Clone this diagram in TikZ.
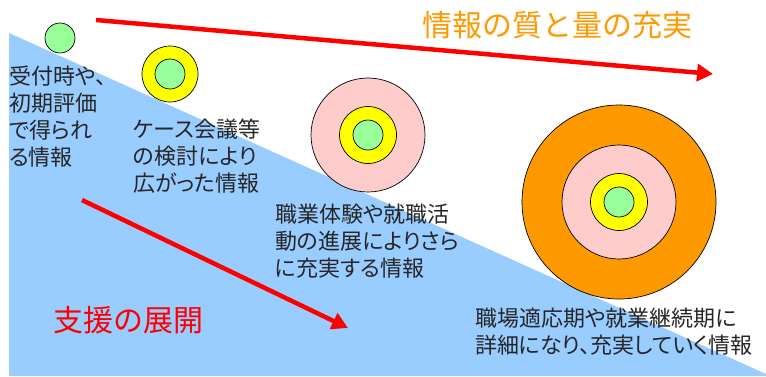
\documentclass[tikz,border=0pt]{standalone}
\usepackage{fontspec}
\setmainfont{Noto Sans CJK JP}
\newfontfamily\propjp[RawFeature=+palt]{Noto Sans CJK JP}
\usetikzlibrary{arrows.meta}
\definecolor{skyb}{HTML}{99CCFF}
\definecolor{grn}{HTML}{99FF99}
\definecolor{yel}{HTML}{FFFF00}
\definecolor{pnk}{HTML}{FFCCCC}
\definecolor{org}{HTML}{FF9900}
\definecolor{rd}{HTML}{FF0000}
\tikzset{
  ring/.style={circle, draw=black, line width=0.7pt, inner sep=0pt, minimum size=#1},
  bigarrow/.style={draw=rd, line width=4.5pt, -{Triangle[length=16pt,width=17pt]}},
  info/.style={align=left, inner sep=0pt, anchor=base west, font=\propjp\fontsize{22}{27}\selectfont, text=black!85},
  headline/.style={inner sep=0pt, font=\fontsize{30}{34}\selectfont}
}
\begin{document}
\begin{tikzpicture}[x=1pt,y=-1pt]
\useasboundingbox (0,0) rectangle (766,376);
\fill[white] (0,0) rectangle (766,376);
\fill[skyb] (9,33) -- (766,374) -- (766,376) -- (9,376) -- cycle;
% stage 1
\node[ring=30pt, fill=grn] (c1) at (60,38) {};
% stage 2
\node[ring=56pt, fill=yel] (c2y) at (170,74) {};
\node[ring=30pt, fill=grn] (c2g) at (170,74) {};
% stage 3
\node[ring=114pt, fill=pnk] (c3p) at (368,135) {};
\node[ring=57pt, fill=yel] (c3y) at (368,135) {};
\node[ring=30pt, fill=grn] (c3g) at (368,135) {};
% stage 4
\node[ring=194pt, fill=org] (c4o) at (619,202) {};
\node[ring=114pt, fill=pnk] (c4p) at (619,202) {};
\node[ring=57pt, fill=yel] (c4y) at (619,202) {};
\node[ring=30pt, fill=grn] (c4g) at (619,202) {};
% arrows
\coordinate (a1s) at (96,20);
\coordinate (a1e) at (713,74);
\draw[bigarrow] (a1s) -- (a1e);
\coordinate (a2s) at (82,200);
\coordinate (a2e) at (348,328);
\draw[bigarrow] (a2s) -- (a2e);
% texts
\node[headline, text=org, anchor=base] (t1) at (557,36) {情報の質と量の充実};
\node[headline, text=rd, anchor=base west] (t2) at (53,331) {支援の展開};
\node[info] (s1) at (9,165) {受付時や、\\初期評価\\で得られ\\る情報};
\node[info] (s2) at (133,191) {ケース会議等\\の検討により\\広がった情報};
\node[info] (s3) at (275,276) {職業体験や就職活\\動の進展によりさら\\に充実する情報};
\node[info] (s4) at (475,353) {職場適応期や就業継続期に\\詳細になり、充実していく情報};
\end{tikzpicture}
\end{document}
